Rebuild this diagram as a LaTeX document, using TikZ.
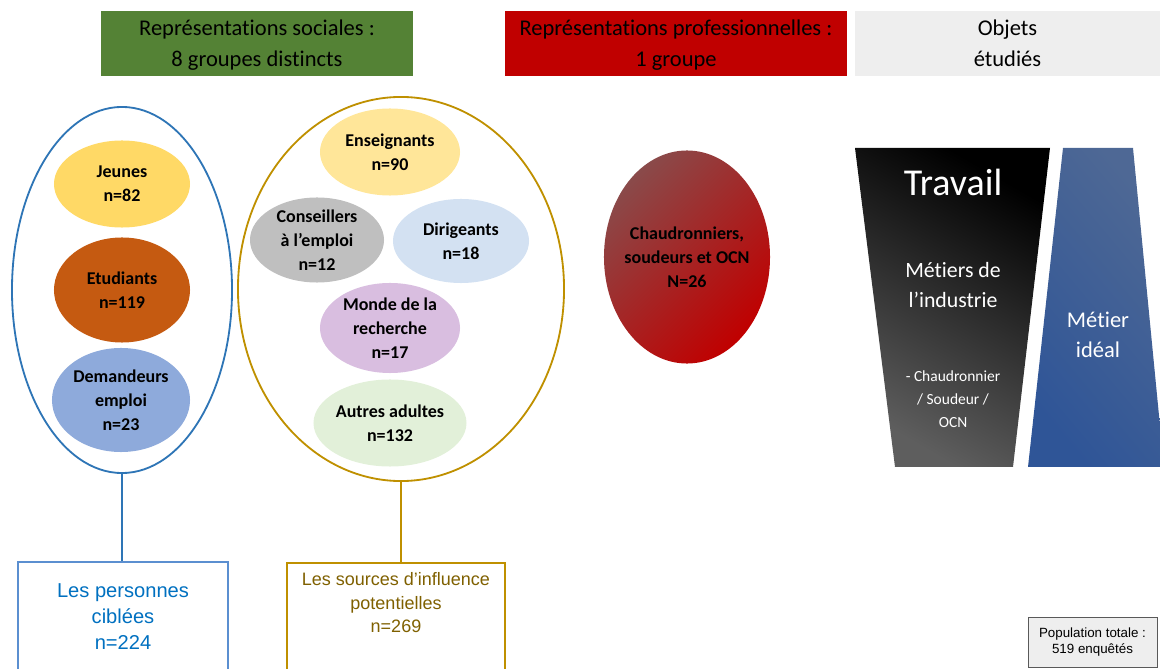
\documentclass[tikz,border=0pt]{standalone}
\usepackage{fontspec}
\setmainfont{Carlito}[Ligatures={TeX,NoCommon}]
\newfontfamily\arialfont{Liberation Sans}
\usepackage{tikz}
\usetikzlibrary{shapes.geometric}
\definecolor{vert}{HTML}{548235}
\definecolor{rouge}{HTML}{C00000}
\definecolor{brunrouge}{HTML}{8A4A4A}
\definecolor{grisclair}{HTML}{EEEEEE}
\definecolor{grisfonce}{HTML}{5E5E5E}
\definecolor{bleu}{HTML}{2E75B6}
\definecolor{bleuclair}{HTML}{5B8FD0}
\definecolor{bleutexte}{HTML}{0070C0}
\definecolor{or}{HTML}{BF9000}
\definecolor{ortexte}{HTML}{7F6000}
\definecolor{jaune}{HTML}{FFD966}
\definecolor{rouille}{HTML}{C55A11}
\definecolor{bleugris}{HTML}{8EAADB}
\definecolor{jaunepale}{HTML}{FFE699}
\definecolor{gris}{HTML}{BFBFBF}
\definecolor{bleupale}{HTML}{D3E1F2}
\definecolor{mauve}{HTML}{D9BEE0}
\definecolor{vertpale}{HTML}{E2F0D9}
\definecolor{bleufonce}{HTML}{2F5597}
\definecolor{bleuterne}{HTML}{637593}

\begin{document}
\begin{tikzpicture}[x=0.025cm,y=-0.025cm,
  titre/.style={rectangle,minimum height=1.625cm,align=center,text depth=-1.5pt,font=\fontsize{16}{22}\selectfont},
  groupe/.style={ellipse,inner sep=0pt,inner ysep=-2.5pt,align=center,font=\bfseries\fontsize{12.8}{17}\selectfont},
  contour/.style={ellipse,draw,line width=1.3pt,inner sep=0pt},
  cadre/.style={rectangle,draw,line width=0.9pt,minimum height=3cm},
  blanc/.style={align=center,text=white}]
\useasboundingbox (0,0) rectangle (1160,669);
\node[titre,fill=vert,minimum width=7.8cm] (N0) at (257,43.5) {Représentations sociales :\\8 groupes distincts};
\node[titre,fill=rouge,minimum width=8.55cm] (N1) at (676,43.5) {Représentations professionnelles :\\1 groupe};
\node[titre,fill=grisclair,minimum width=7.625cm] (N2) at (1007.5,43.5) {Objets\\étudiés};
\node[contour,draw=bleu,minimum width=5.5cm,minimum height=9.15cm] (N3) at (122,290) {};
\node[contour,draw=or,minimum width=8.15cm,minimum height=9.6cm] (N4) at (401,289) {};
\node[groupe,fill=jaune,minimum width=3.4cm,minimum height=2.175cm] (N5) at (122,184) {Jeunes\\n=82};
\node[groupe,fill=rouille,minimum width=3.4cm,minimum height=2.625cm] (N6) at (122,290) {Etudiants\\n=119};
\node[groupe,fill=bleugris,minimum width=3.45cm,minimum height=2.6cm] (N7) at (121,400) {Demandeurs\\emploi\\n=23};
\node[groupe,fill=jaunepale,minimum width=3.5cm,minimum height=2.175cm] (N8) at (390,152) {Enseignants\\n=90};
\node[groupe,fill=gris,minimum width=3.35cm,minimum height=2.125cm] (N9) at (317,240) {Conseillers\\à l’emploi\\n=12};
\node[groupe,fill=bleupale,minimum width=3.4cm,minimum height=2.1cm] (N10) at (461,241) {Dirigeants\\n=18};
\node[groupe,fill=mauve,minimum width=3.5cm,minimum height=2.25cm] (N11) at (390,328) {Monde de la\\recherche\\n=17};
\node[groupe,fill=vertpale,minimum width=3.5cm,minimum height=2.175cm] (N12) at (390,423) {Autres adultes\\n=132};
\node[groupe,inner xsep=-5pt,minimum width=4.15cm,minimum height=5.325cm,top color=brunrouge,middle color=rouge,bottom color=rouge,shading angle=45] (N13) at (687,257) {Chaudronniers,\\soudeurs et OCN\\N=26};
\shade[top color=black,middle color=black,bottom color=grisfonce,shading angle=-30] (855,148) -- (1050,148) -- (1013,467) -- (895,467) -- cycle;
\shade[top color=bleuterne!60!bleufonce,middle color=bleufonce,bottom color=bleufonce,shading angle=-50] (1063,148) -- (1133,148) -- (1164,467) -- (1028,467) -- cycle;
\node[blanc,font=\fontsize{27}{30}\selectfont] (N14) at (953,182) {Travail};
\node[blanc,font=\fontsize{15.5}{21.5}\selectfont] (N15) at (953,285) {Métiers de\\l’industrie};
\node[blanc,font=\fontsize{11}{16.5}\selectfont] (N16) at (953,399) {- Chaudronnier\\/ Soudeur /\\OCN};
\node[blanc,font=\fontsize{16}{21.5}\selectfont] (N17) at (1098,335) {Métier\\idéal};
\node[cadre,draw=bleuclair,minimum width=5.25cm] (N18) at (123,622) {};
\node[align=center,font=\arialfont\fontsize{14.3}{18.5}\selectfont,text=bleutexte] (N19) at (123,617) {Les personnes\\ciblées\\n=224};
\node[cadre,draw=or,minimum width=5.45cm] (N20) at (396,623) {};
\node[align=center,font=\arialfont\fontsize{12.8}{16.7}\selectfont,text=ortexte] (N21) at (396,603) {Les sources d’influence\\potentielles\\n=269};
\node[rectangle,draw=gray!70!black,fill=grisclair,minimum width=3.225cm,minimum height=1.25cm,align=center,font=\arialfont\fontsize{9.5}{11.5}\selectfont] (N22) at (1092.5,642) {Population totale :\\519 enquêtés};
\draw[-,draw=bleu,line width=1.3pt] (N3.south) -- (N3.south |- N18.north);
\draw[-,draw=or,line width=1.3pt] (N4.south) -- (N4.south |- N20.north);
\end{tikzpicture}
\end{document}
